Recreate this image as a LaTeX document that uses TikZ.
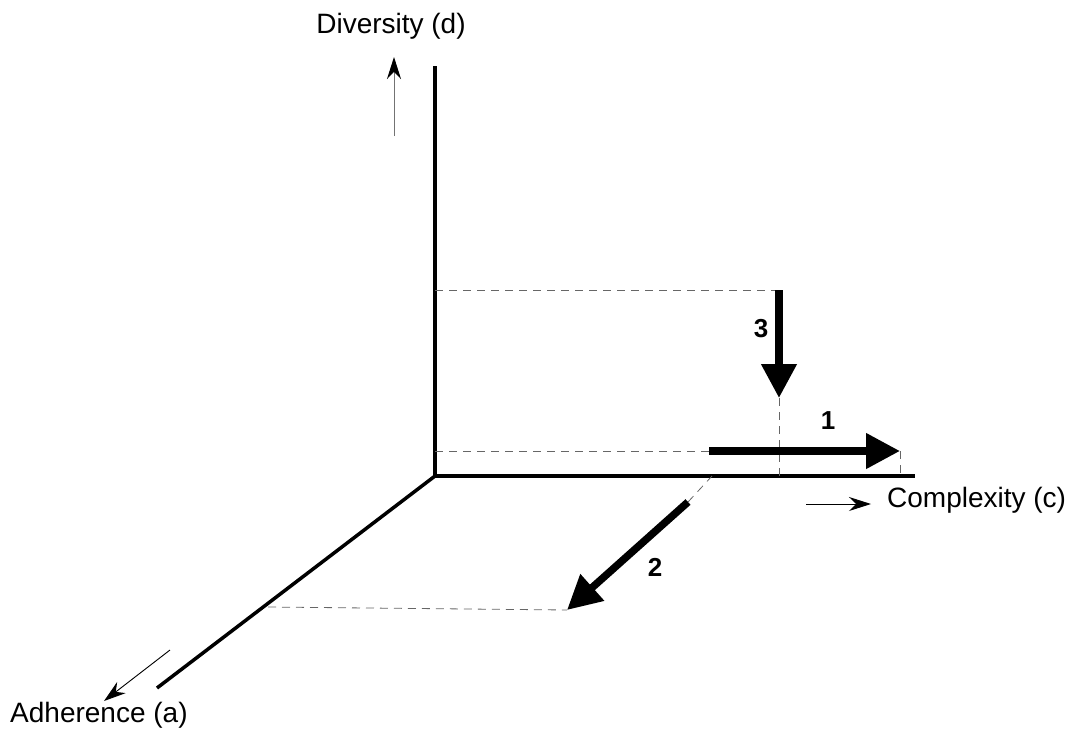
\documentclass[tikz,border=0pt]{standalone}
\usepackage{fontspec}
\setmainfont{Liberation Sans}
\usetikzlibrary{arrows.meta}
\begin{document}
\begin{tikzpicture}[x=1pt,y=-1pt,
  axisline/.style={line width=3.5pt, line join=miter},
  guide/.style={draw=black!60, line width=0.8pt, dash pattern=on 8pt off 6pt},
  bigarrow/.style={line width=7.5pt, -{Triangle[length=34pt,width=34pt]}},
  smallarrow/.style={line width=0.9pt, -{Stealth[length=22pt,width=14pt,color=black]}},
  axislabel/.style={inner sep=0pt, font=\fontsize{28}{32}\selectfont},
  numlabel/.style={inner sep=0pt, font=\fontsize{26}{30}\selectfont\bfseries}]
\useasboundingbox (0,0) rectangle (1069,729);
% key points
\coordinate (O) at (435,476);
\coordinate (dtop) at (435,66);
\coordinate (cend) at (915,476);
\coordinate (aend) at (157,688);
% guide points
\coordinate (d3) at (435,290);
\coordinate (d1) at (435,451);
\coordinate (a2) at (268,607);
\coordinate (c2) at (712,476);
\coordinate (c3) at (779,476);
\coordinate (c1) at (900,476);
% arrow ends
\coordinate (s1) at (709,451);
\coordinate (t1) at (900,451);
\coordinate (s3) at (779,290);
\coordinate (t3) at (779,398);
\coordinate (s2) at (688,502);
\coordinate (t2) at (567,610);
% small axis arrows
\coordinate (ds) at (394,136);
\coordinate (dt) at (394,57);
\coordinate (cs) at (806,504);
\coordinate (ct) at (871,504);
\coordinate (as) at (170,650);
\coordinate (at) at (104,701);
% axes
\draw[axisline] (dtop) -- (O) -- (cend);
\draw[axisline] (O) -- (aend);
% guides
\draw[guide] (d3) -- (s3);
\draw[guide] (d1) -- (s1);
\draw[guide] (t3) -- (c3);
\draw[guide] (t1) -- (c1);
\draw[guide] (a2) -- (t2);
\draw[guide] (s2) -- (c2);
% big arrows
\draw[bigarrow] (s1) -- (t1);
\draw[bigarrow] (s3) -- (t3);
\draw[bigarrow] (s2) -- (t2);
% small arrows
\draw[smallarrow, draw=black!55] (ds) -- (dt);
\draw[smallarrow] (cs) -- (ct);
\draw[smallarrow] (as) -- (at);
% labels
\node[axislabel, anchor=base] (ld) at (391,33) {Diversity (d)};
\node[axislabel, anchor=base west] (lc) at (887,507) {Complexity (c)};
\node[axislabel, anchor=base west] (la) at (10,722) {Adherence (a)};
\node[numlabel] (n1) at (828,421) {1};
\node[numlabel] (n2) at (655,567) {2};
\node[numlabel] (n3) at (761,329) {3};
\end{tikzpicture}
\end{document}
